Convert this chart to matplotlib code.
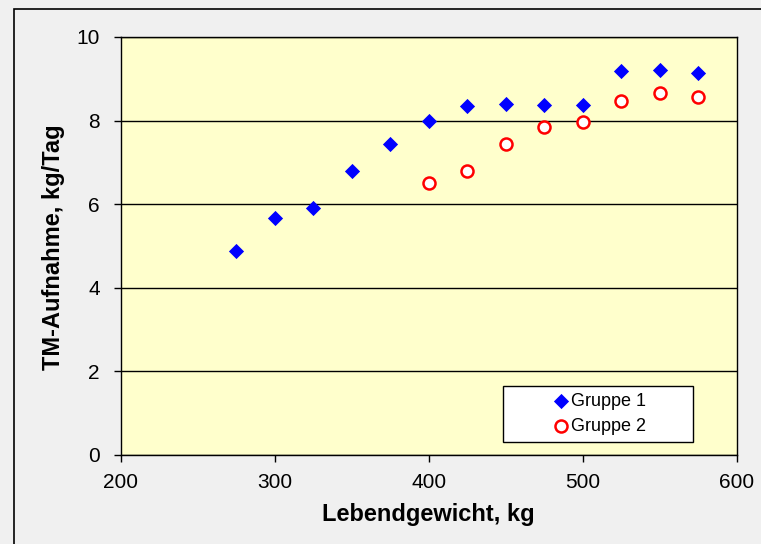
import matplotlib.pyplot as plt
from matplotlib.patches import Rectangle

plt.rcParams['font.family'] = ['Liberation Sans', 'DejaVu Sans']

# Gruppe 1
x1 = [275, 300, 325, 350, 375, 400, 425, 450, 475, 500, 525, 550, 575]
y1 = [4.88, 5.67, 5.91, 6.79, 7.44, 7.99, 8.35, 8.40, 8.37, 8.37, 9.19, 9.21, 9.14]
# Gruppe 2
x2 = [400, 425, 450, 475, 500, 525, 550, 575]
y2 = [6.51, 6.79, 7.44, 7.85, 7.97, 8.47, 8.66, 8.56]

fig = plt.figure(figsize=(7.61, 5.44), dpi=100, facecolor='#f0f0f0')
W, H = 761, 544
ax = fig.add_axes([120.7 / W, 1 - 455 / H, (736.7 - 120.7) / W, (455 - 37) / H])
ax.set_facecolor('#ffffcc')

# Rahmen um die Grafik
fig.patches.append(Rectangle((14 / W, -0.1), 1.2, 1 - 9 / H + 0.1, transform=fig.transFigure,
                             fill=False, edgecolor='black', linewidth=1.2))

ax.grid(axis='y', color='black', linewidth=1)
ax.set_axisbelow(True)
ax.scatter(x1, y1, marker='D', s=60, color='#0000ff', label='Gruppe 1', zorder=3, linewidths=0)
ax.scatter(x2, y2, marker='o', s=75, facecolor='white', edgecolor='#ff0000', linewidths=1.8,
           label='Gruppe 2', zorder=3)

ax.set_xlim(200, 600)
ax.set_ylim(0, 10)
ax.set_xticks([200, 300, 400, 500, 600])
ax.set_yticks([0, 2, 4, 6, 8, 10])
ax.tick_params(labelsize=15, direction='out', length=5, width=1)
ax.tick_params(axis='y', pad=10)
ax.tick_params(axis='x', pad=8)
for s in ax.spines.values():
    s.set_linewidth(1)

ax.set_xlabel('Lebendgewicht, kg', fontsize=17, fontweight='bold')
ax.set_ylabel('TM-Aufnahme, kg/Tag', fontsize=17, fontweight='bold')
ax.xaxis.set_label_coords(0.5, (455 - 503) / 418)
ax.yaxis.set_label_coords((65 - 120.7) / 616, 0.496)

# Legendenkasten
ax.add_patch(Rectangle(((503 - 120.7) / 616, 13 / 418), 190 / 616, 56 / 418,
                       transform=ax.transAxes, facecolor='white', edgecolor='black',
                       linewidth=1, zorder=4))
leg = ax.legend(loc='center', bbox_to_anchor=((599 - 120.7) / 616, (455 - 414) / 418),
                fontsize=13, frameon=False, handletextpad=0.05, labelspacing=0.45,
                handlelength=1.0, borderpad=0, borderaxespad=0)
leg.set_zorder(5)

fig.savefig('out.png', dpi=100, facecolor=fig.get_facecolor())
